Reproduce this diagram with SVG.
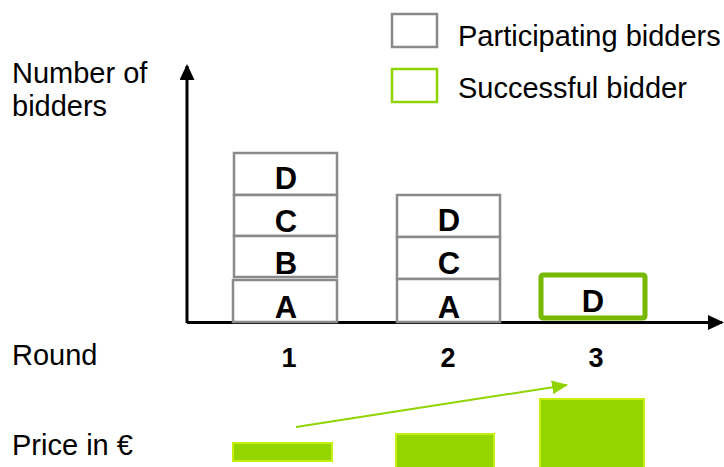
<svg xmlns="http://www.w3.org/2000/svg" width="724" height="467" viewBox="0 0 724 467">
<style>
text{font-family:"Liberation Sans",Arial,sans-serif;font-size:29px;fill:#000}
.b{font-weight:bold;text-anchor:middle;font-size:31px}
.n{font-weight:bold;text-anchor:middle;font-size:27px}
.box{fill:#fff;stroke:#8a8a8a;stroke-width:2.5}
.win{fill:#fff;stroke:#76b900;stroke-width:5}
.bar{fill:#96d600;stroke:#c6ee10;stroke-width:2}
</style>
<defs>
<marker id="ah" markerWidth="16" markerHeight="15" refX="14" refY="7.5" orient="auto" markerUnits="userSpaceOnUse" viewBox="0 0 16 15">
<path d="M0,0 L16,7.5 L0,15 Z" fill="#000"/>
</marker>
<marker id="gh" markerWidth="16" markerHeight="14" refX="15" refY="7" orient="auto" markerUnits="userSpaceOnUse" viewBox="0 0 16 14">
<path d="M0,0 L16,7 L0,14 Z" fill="#8fd400"/>
</marker>
</defs>
<g id="legend">
<rect x="392" y="14" width="45" height="33" fill="#fff" stroke="#8a8a8a" stroke-width="2.5"/>
<text x="458" y="46">Participating bidders</text>
<rect x="392" y="69" width="45" height="33" fill="#fff" stroke="#8fd400" stroke-width="2.5"/>
<text x="458" y="98">Successful bidder</text>
</g>
<g id="labels">
<text x="12" y="83">Number of</text>
<text x="12" y="116">bidders</text>
<text x="12" y="365">Round</text>
<text x="12" y="455">Price in €</text>
<text class="n" x="289" y="367">1</text>
<text class="n" x="448" y="367">2</text>
<text class="n" x="596" y="367">3</text>
</g>
<g id="connectors">
<line x1="187" y1="323" x2="187" y2="66" stroke="#000" stroke-width="3" marker-end="url(#ah)" />
<line x1="187" y1="322.5" x2="722" y2="322.5" stroke="#000" stroke-width="3" marker-end="url(#ah)"/>
<line x1="296" y1="427" x2="567" y2="385" stroke="#8fd400" stroke-width="2" marker-end="url(#gh)"/>
</g>
<g id="round1">
<g id="r1-D"><rect class="box" x="234" y="153" width="103" height="42"/><text class="b" x="286" y="189">D</text></g>
<g id="r1-C"><rect class="box" x="234" y="195" width="103" height="41"/><text class="b" x="286" y="232">C</text></g>
<g id="r1-B"><rect class="box" x="234" y="236" width="103" height="41"/><text class="b" x="286" y="274">B</text></g>
<g id="r1-A"><rect class="box" x="233" y="280" width="104" height="42"/><text class="b" x="286" y="318">A</text></g>
</g>
<g id="round2">
<g id="r2-D"><rect class="box" x="397" y="195" width="103" height="42"/><text class="b" x="449" y="231">D</text></g>
<g id="r2-C"><rect class="box" x="397" y="237" width="103" height="42"/><text class="b" x="449" y="274">C</text></g>
<g id="r2-A"><rect class="box" x="397" y="279" width="103" height="43"/><text class="b" x="449" y="318">A</text></g>
</g>
<g id="round3">
<rect class="win" x="541" y="275" width="104" height="43" rx="2"/><text class="b" x="593" y="312">D</text>
</g>
<g id="prices">
<rect id="p1" class="bar" x="233" y="443" width="99" height="18"/>
<rect id="p2" class="bar" x="396" y="434" width="98" height="36"/>
<rect id="p3" class="bar" x="540" y="399" width="104" height="71"/>
</g>
</svg>
